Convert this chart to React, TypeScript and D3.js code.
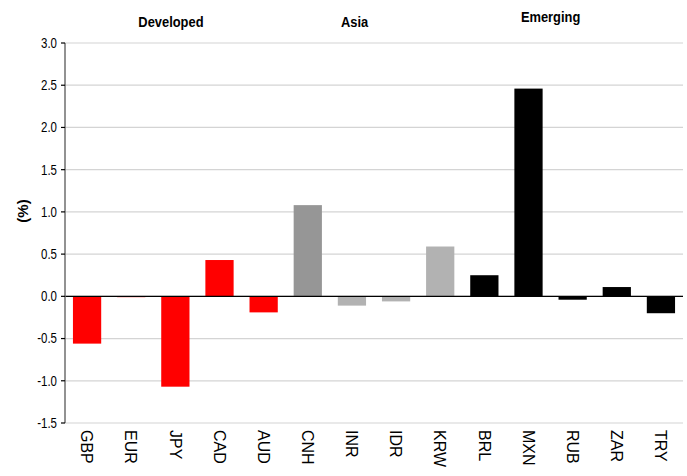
import React from "react";
import * as d3 from "d3";

const currencies = ["GBP", "EUR", "JPY", "CAD", "AUD", "CNH", "INR", "IDR", "KRW", "BRL", "MXN", "RUB", "ZAR", "TRY"];
const changes = [-0.56, -0.01, -1.07, 0.43, -0.19, 1.08, -0.11, -0.06, 0.59, 0.25, 2.46, -0.04, 0.11, -0.2];
const barColors = ["#FF0000", "#FF0000", "#FF0000", "#FF0000", "#FF0000", "#969696", "#B2B2B2", "#B2B2B2", "#B2B2B2", "#000000", "#000000", "#000000", "#000000", "#000000"];
const groupNames = ["Developed", "Asia", "Emerging"];
// group title anchor, in category-index units
const groupAt = [1.9, 6.06, 10.5];
const yTicks = [3.0, 2.5, 2.0, 1.5, 1.0, 0.5, 0.0, -0.5, -1.0, -1.5];

const W = 687;
const H = 476;
const left = 65;
const right = 683;
const top = 43;
const bottom = 423;
const sans = "'Liberation Sans', Arial, sans-serif";

export default function App() {
  const x = d3.scaleBand<string>().domain(currencies).range([left, right]).paddingInner(0.36).paddingOuter(0.18);
  const y = d3.scaleLinear().domain([-1.5, 3.0]).range([bottom, top]);
  const step = x.step();
  const firstCenter = (x(currencies[0]) as number) + x.bandwidth() / 2;
  const groupY = [22, 22, 17];
  const fmt = (t: number) => d3.format(".1f")(t).replace("\u2212", "-");

  return (
    <svg width={W} height={H} style={{ position: "absolute", left: 0, top: 0, background: "#fff" }}>
      {yTicks.map((t) => (
        <line key={"g" + t} x1={left} x2={right} y1={y(t)} y2={y(t)} stroke="#d4d4d4" strokeWidth={1.2} />
      ))}
      {currencies.map((c, i) => {
        const v = changes[i];
        return (
          <rect
            key={c}
            x={x(c)}
            width={x.bandwidth()}
            y={Math.min(y(v), y(0))}
            height={Math.abs(y(v) - y(0))}
            fill={barColors[i]}
          />
        );
      })}
      <line x1={left} x2={right} y1={y(0)} y2={y(0)} stroke="#000" strokeWidth={1.2} />
      <line x1={left} x2={left} y1={top} y2={bottom} stroke="#6e6e6e" strokeWidth={1.5} />
      {yTicks.map((t) => (
        <g key={"t" + t}>
          <line x1={left - 4} x2={left} y1={y(t)} y2={y(t)} stroke="#000" strokeWidth={1.2} />
          <g transform={`translate(${left - 8},${y(t)}) scale(0.82,1)`}>
            <text dy="0.35em" textAnchor="end" fontFamily={sans} fontSize={14} fill="#000">
              {fmt(t)}
            </text>
          </g>
        </g>
      ))}
      {currencies.map((c) => {
        const cx = (x(c) as number) + x.bandwidth() / 2;
        return (
          <text
            key={"l" + c}
            transform={`translate(${cx},${430}) rotate(90)`}
            dy="0.36em"
            textAnchor="start"
            fontFamily={sans}
            fontSize={16}
            fill="#000"
          >
            {c}
          </text>
        );
      })}
      {groupNames.map((g, i) => (
        <g key={g} transform={`translate(${firstCenter + groupAt[i] * step},${groupY[i]}) scale(0.86,1)`}>
          <text dy="0.35em" textAnchor="middle" fontFamily={sans} fontWeight="bold" fontSize={15} fill="#000">
            {g}
          </text>
        </g>
      ))}
      <g transform={`translate(23,211) rotate(-90)`}>
        <text dy="0.35em" textAnchor="middle" fontFamily={sans} fontWeight="bold" fontSize={15} fill="#000">
          (%)
        </text>
      </g>
    </svg>
  );
}
